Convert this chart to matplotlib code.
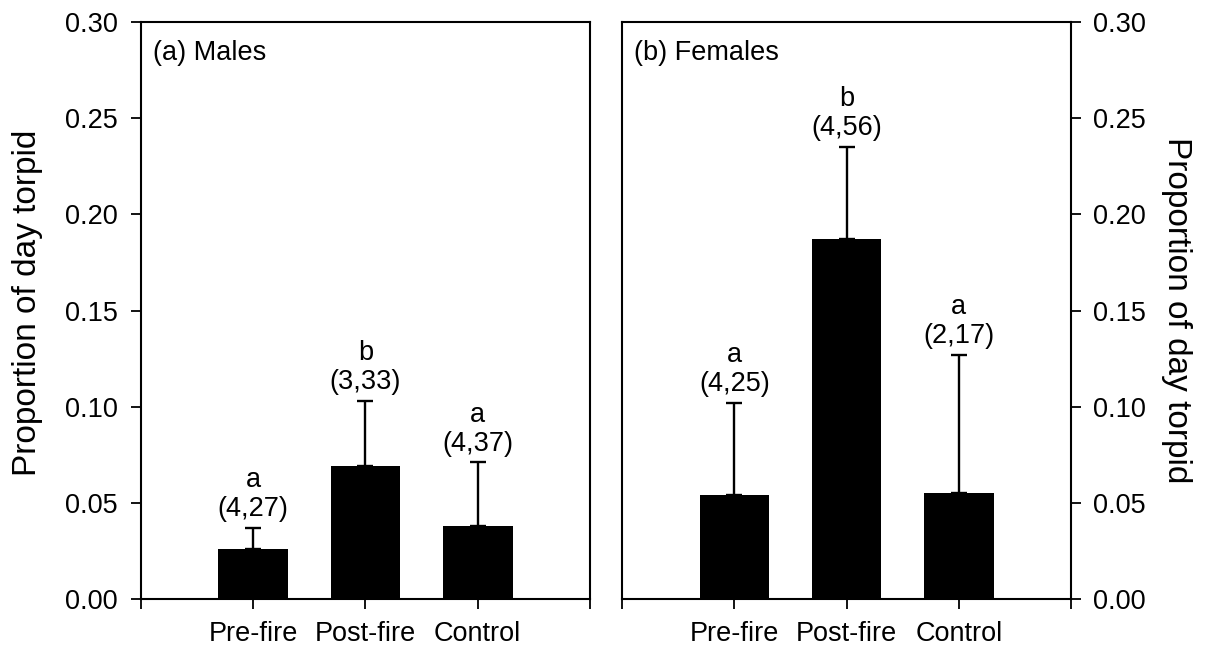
import matplotlib
matplotlib.use("Agg")
import matplotlib.pyplot as plt

plt.rcParams['font.family'] = ['Liberation Sans', 'DejaVu Sans']

# data
groups = ["Pre-fire", "Post-fire", "Control"]

male_mean = [0.026, 0.069, 0.038]
male_upper = [0.037, 0.103, 0.071]
male_letter = ["a", "b", "a"]
male_n = ["4,27", "3,33", "4,37"]

female_mean = [0.054, 0.187, 0.055]
female_upper = [0.102, 0.235, 0.127]
female_letter = ["a", "b", "a"]
female_n = ["4,25", "4,56", "2,17"]

fig = plt.figure(figsize=(12.06, 6.53), dpi=100)
ax1 = fig.add_axes([0.1169, 0.0827, 0.3723, 0.8836])
ax2 = fig.add_axes([0.5158, 0.0827, 0.3723, 0.8836])

FS = 19.5


def draw_panel(ax, mean, upper, letters, ns, title):
    x = [1, 2, 3]
    err = [u - m for u, m in zip(upper, mean)]
    ax.bar(x, mean, width=0.62, color="black", zorder=2)
    ax.errorbar(x, mean, yerr=[[0] * len(err), err], fmt="none",
                ecolor="black", elinewidth=1.7, capsize=6, capthick=1.7,
                zorder=3)
    for xi, u, let, n in zip(x, upper, letters, ns):
        ax.annotate(let + "\n(" + n + ")", xy=(xi, u), xytext=(0, 4),
                    textcoords="offset points", ha="center", va="bottom",
                    fontsize=FS, linespacing=1.15)
    ax.set_xlim(0, 4)
    ax.set_ylim(0, 0.30)
    ax.set_xticks([0, 1, 2, 3, 4])
    ax.set_xticklabels([""] + groups + [""])
    ax.set_yticks([0, 0.05, 0.10, 0.15, 0.20, 0.25, 0.30])
    ax.set_yticklabels(["%.2f" % v for v in ax.get_yticks()])
    for s in ax.spines.values():
        s.set_linewidth(1.5)
    ax.tick_params(axis="both", direction="out", length=7.5, width=1.3,
                   labelsize=FS)
    ax.tick_params(axis="x", pad=8)
    ax.text(0.027, 0.968, title, transform=ax.transAxes, ha="left", va="top",
            fontsize=FS)


draw_panel(ax1, male_mean, male_upper, male_letter, male_n, "(a) Males")
draw_panel(ax2, female_mean, female_upper, female_letter, female_n, "(b) Females")

ax1.tick_params(axis="y", pad=9)
ax1.set_ylabel("Proportion of day torpid", fontsize=24)
ax1.yaxis.set_label_coords(-0.218, 0.513)

ax2.yaxis.tick_right()
ax2.yaxis.set_label_position("right")
ax2.tick_params(axis="y", pad=8)
ax2.set_ylabel("Proportion of day torpid", fontsize=24, rotation=270)
ax2.yaxis.set_label_coords(1.27, 0.5)

fig.savefig("out.png", dpi=100)
